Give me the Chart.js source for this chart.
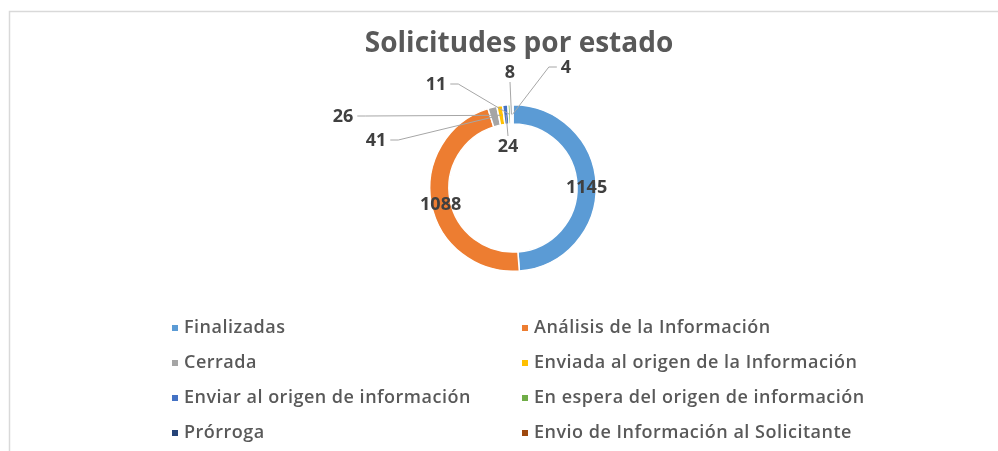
<!DOCTYPE html>
<html>
<head>
<meta charset="utf-8">
<script src="https://cdn.jsdelivr.net/npm/chart.js@4.4.0/dist/chart.umd.min.js"></script>
<style>
  html, body { margin: 0; padding: 0; background: #fff; }
  #wrap { width: 998px; height: 451px; }
</style>
</head>
<body>
<div id="wrap"><canvas id="chart" width="998" height="451"></canvas></div>
<script>
// Solicitudes por estado - doughnut with callout labels and 2-column legend

const title = "Solicitudes por estado";
const categories = [
  "Finalizadas",
  "Análisis de la Información",
  "Cerrada",
  "Enviada al origen de la Información",
  "Enviar al origen de información",
  "En espera del origen de información",
  "Prórroga",
  "Envio de Información al Solicitante"
];
const values = [1145, 1088, 41, 26, 24, 11, 8, 4];
const colors = ["#5B9BD5", "#ED7D31", "#A5A5A5", "#FFC000", "#4472C4", "#70AD47", "#264478", "#9E480E"];

// label placement: null = on the ring, otherwise offset of label centre from doughnut centre
const labelOffsets = [null, null, [-137, -48], [-170, -72], [-5, -42], [-77, -104], [-3, -116], [53, -121]];

const FONT = "'Open Sans', 'DejaVu Sans', sans-serif";
const TEXT = "#404040";

const frame = {
  id: "frame",
  beforeDraw(chart){
    const c = chart.ctx;
    c.save();
    c.strokeStyle = "#d9d9d9";
    c.lineWidth = 1.5;
    c.beginPath();
    c.moveTo(9.5, 460);
    c.lineTo(9.5, 11.5);
    c.lineTo(1010, 11.5);
    c.stroke();
    c.fillStyle = "#595959";
    c.font = `bold 28px ${FONT}`;
    c.textAlign = "center";
    c.textBaseline = "middle";
    c.fillText(title, 519, 44);
    c.restore();
  }
};

const dataLabels = {
  id: "dataLabels",
  afterDatasetsDraw(chart){
    const c = chart.ctx;
    const meta = chart.getDatasetMeta(0);
    c.save();
    c.font = `bold 18px ${FONT}`;
    c.fillStyle = TEXT;
    c.textAlign = "center";
    c.textBaseline = "middle";
    meta.data.forEach((arc, i) => {
      const p = arc.getProps(["x", "y", "startAngle", "endAngle", "innerRadius", "outerRadius"], true);
      const mid = (p.startAngle + p.endAngle) / 2;
      const rMid = (p.innerRadius + p.outerRadius) / 2;
      const tx = p.x + Math.cos(mid) * rMid;
      const ty = p.y + Math.sin(mid) * rMid;
      const txt = String(values[i]);
      const off = labelOffsets[i];
      if(!off){
        c.fillText(txt, tx, ty + 3);
        return;
      }
      const lx = p.x + off[0], ly = p.y + off[1];
      const w = c.measureText(txt).width;
      c.strokeStyle = "#a6a6a6";
      c.lineWidth = 1;
      c.beginPath();
      if(Math.abs(tx - lx) > w / 2 + 6){
        const dir = tx > lx ? 1 : -1;
        const sx = lx + dir * (w / 2 + 4);
        c.moveTo(sx, ly);
        c.lineTo(sx + dir * 8, ly);
      } else {
        const dir = ty > ly ? 1 : -1;
        c.moveTo(lx, ly + dir * 10);
      }
      c.lineTo(tx, ty);
      c.stroke();
      c.fillText(txt, lx, ly + 1);
    });
    c.restore();
  }
};

const legend2col = {
  id: "legend2col",
  afterDraw(chart){
    const c = chart.ctx;
    const colX = [172, 522];
    const rowY = [328, 363, 398, 433];
    c.save();
    c.font = `600 18px ${FONT}`;
    c.letterSpacing = "0.5px";
    c.textAlign = "left";
    c.textBaseline = "middle";
    categories.forEach((name, i) => {
      const x = colX[i % 2], y = rowY[Math.floor(i / 2)];
      c.fillStyle = colors[i];
      c.fillRect(x, y - 3, 6, 6);
      c.fillStyle = "#595959";
      c.fillText(name, x + 12, y);
    });
    c.restore();
  }
};

new Chart(document.getElementById("chart"), {
  type: "doughnut",
  data: {
    labels: categories,
    datasets: [{
      data: values,
      backgroundColor: colors,
      borderColor: "#ffffff",
      borderWidth: 1.5
    }]
  },
  options: {
    responsive: false,
    devicePixelRatio: 1,
    animation: false,
    cutout: "77%",
    layout: { padding: { left: 28, right: 0, top: 104, bottom: 179 } },
    plugins: {
      legend: { display: false },
      tooltip: { enabled: false }
    }
  },
  plugins: [frame, dataLabels, legend2col]
});
</script>
</body>
</html>
